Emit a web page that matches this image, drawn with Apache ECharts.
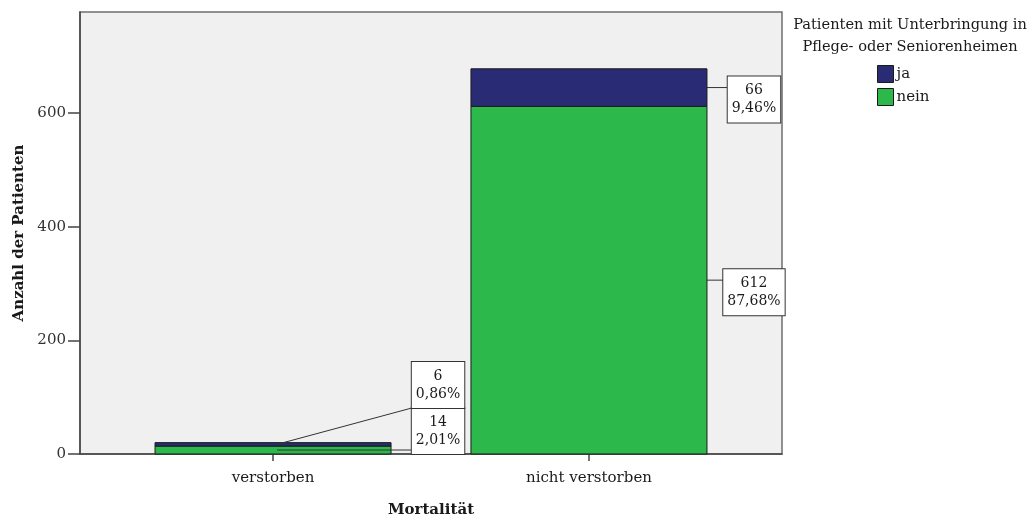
<!DOCTYPE html>
<html lang="de">
<head>
<meta charset="utf-8">
<title>Mortalität nach Unterbringung</title>
<script src="https://cdn.jsdelivr.net/npm/echarts@6/dist/echarts.min.js"></script>
<style>
  html, body { margin: 0; padding: 0; background: #ffffff; overflow: hidden; }
  #chart { width: 1031px; height: 518px; }
</style>
</head>
<body>
<div id="chart"></div>
<script>
// Categories on the x axis
const categories = ['verstorben', 'nicht verstorben'];
// Stacked groups, bottom to top
const groupNames = ['nein', 'ja'];
const neinValues = [14, 612];
const jaValues = [6, 66];
// Value axis ticks
const yTicks = [0, 200, 400, 600];

const FONT = '"DejaVu Serif", "Liberation Serif", serif';
const FS = 15;
const BOX_FS = 14;
const BAR_W = 236;
const colors = { nein: '#2db84b', ja: '#292c74' };

const groupValues = { nein: neinValues, ja: jaValues };
const total = neinValues.concat(jaValues).reduce((a, b) => a + b, 0);
const pctText = v => (v / total * 100).toFixed(2).replace('.', ',') + '%';

// One row per bar segment: category, lower and upper stack bound, count
const segRows = [];
categories.forEach((c, ci) => {
  let low = 0;
  groupNames.forEach(g => {
    const v = groupValues[g][ci];
    segRows.push({ group: g, cat: ci, low: low, high: low + v, value: v });
    low += v;
  });
});

const measureCtx = document.createElement('canvas').getContext('2d');
measureCtx.font = BOX_FS + 'px ' + FONT;
const textWidth = s => Math.max.apply(null, s.split('\n').map(l => measureCtx.measureText(l).width));

const BOX_PAD_X = 4, BOX_PAD_Y = 5, LINE_H = 18;
const BOX_H = 2 * LINE_H + 2 * BOX_PAD_Y;

// Stacked bar segment drawn as a rectangle between its lower and upper bound
function renderSegment(rows) {
  return function (params, api) {
    const r = rows[params.dataIndex];
    const p0 = api.coord([r.cat, r.low]);
    const p1 = api.coord([r.cat, r.high]);
    return {
      type: 'rect',
      shape: { x: p0[0] - BAR_W / 2, y: p1[1], width: BAR_W, height: p0[1] - p1[1] },
      style: { fill: api.visual('color'), stroke: '#1a1a1a', lineWidth: 1 }
    };
  };
}

// Value box beside the bar with a leader line to its segment
function renderLabel(params, api) {
  const item = segRows[params.dataIndex];
  const base = api.coord([item.cat, 0]);
  const barRight = base[0] + BAR_W / 2;
  const axisY = base[1];

  // boxes of one category sit beside the bar and are pushed upwards on overlap
  const layout = segRows.filter(r => r.cat === item.cat).map(r => {
    const top = api.coord([r.cat, r.high])[1];
    const bot = api.coord([r.cat, r.low])[1];
    const mid = (top + bot) / 2;
    return { r, top, bot, mid, cy: Math.min(mid + 12, axisY - BOX_H / 2) };
  });
  layout.sort((a, b) => b.cy - a.cy);
  for (let i = 1; i < layout.length; i++) {
    if (layout[i].cy > layout[i - 1].cy - BOX_H) layout[i].cy = layout[i - 1].cy - BOX_H;
  }
  const me = layout.find(l => l.r === item);

  const text = item.value + '\n' + pctText(item.value);
  const cx = barRight + 47;
  const boxLeft = cx - textWidth(text) / 2 - BOX_PAD_X;
  const clampY = y => Math.max(me.cy - BOX_H / 2, Math.min(me.cy + BOX_H / 2, y));

  const thin = (me.bot - me.top) < 20;
  const start = thin ? [base[0] + 4, me.mid] : [barRight, clampY(me.mid)];
  const end = [boxLeft, clampY(me.mid)];

  return {
    type: 'group',
    children: [
      {
        type: 'line',
        shape: { x1: start[0], y1: start[1], x2: end[0], y2: end[1] },
        style: { stroke: '#333', lineWidth: 1 }
      },
      {
        type: 'text',
        x: cx,
        y: me.cy,
        style: {
          text: text,
          align: 'center',
          verticalAlign: 'middle',
          font: BOX_FS + 'px ' + FONT,
          lineHeight: LINE_H,
          fill: '#1a1a1a',
          backgroundColor: '#ffffff',
          borderColor: '#333333',
          borderWidth: 1,
          padding: [BOX_PAD_Y, BOX_PAD_X]
        }
      }
    ]
  };
}

const segSeries = groupNames.map(g => {
  const rows = segRows.filter(r => r.group === g);
  return {
    name: g,
    type: 'custom',
    coordinateSystem: 'cartesian2d',
    itemStyle: { color: colors[g], borderColor: '#1a1a1a', borderWidth: 1 },
    data: rows.map(r => [r.cat, r.low, r.high]),
    encode: { x: 0, y: [1, 2] },
    renderItem: renderSegment(rows)
  };
});

const chart = echarts.init(document.getElementById('chart'), null, { renderer: 'canvas' });

chart.setOption({
  animation: false,
  backgroundColor: '#ffffff',
  title: {
    text: 'Patienten mit Unterbringung in\nPflege- oder Seniorenheimen',
    left: 905,
    top: 9,
    textAlign: 'center',
    textStyle: { fontFamily: FONT, fontSize: 14.6, fontWeight: 'normal', color: '#1a1a1a', lineHeight: 22 }
  },
  legend: {
    data: ['ja', 'nein'],
    orient: 'vertical',
    left: 877,
    top: 65,
    itemWidth: 16,
    itemHeight: 17,
    itemGap: 5,
    icon: 'rect',
    padding: 0,
    itemStyle: { borderColor: '#1a1a1a', borderWidth: 1 },
    textStyle: { fontFamily: FONT, fontSize: FS, color: '#1a1a1a', padding: [0, 0, 0, -2] }
  },
  grid: {
    left: 80,
    right: 249,
    top: 12,
    bottom: 64,
    outerBoundsMode: 'none',
    containLabel: false,
    show: true,
    backgroundColor: '#f0f0f0',
    borderColor: '#6e6e6e',
    borderWidth: 1.5
  },
  xAxis: {
    type: 'value',
    min: -0.611,
    max: 1.611,
    name: 'Mortalität',
    nameLocation: 'middle',
    nameGap: 49,
    nameTextStyle: { fontFamily: FONT, fontSize: FS, fontWeight: 'bold', color: '#1a1a1a' },
    splitLine: { show: false },
    axisLine: { show: true, onZero: false, lineStyle: { color: '#444', width: 1.5 } },
    axisTick: { show: true, length: 7, customValues: categories.map((c, i) => i), lineStyle: { color: '#444', width: 1.5 } },
    axisLabel: {
      customValues: categories.map((c, i) => i),
      formatter: v => categories[Math.round(v)] || '',
      margin: 17,
      fontFamily: FONT,
      fontSize: FS,
      color: '#1a1a1a'
    }
  },
  yAxis: {
    type: 'value',
    min: 0,
    max: 778,
    name: 'Anzahl der Patienten',
    nameLocation: 'middle',
    nameRotate: 90,
    nameGap: 52,
    nameTextStyle: { fontFamily: FONT, fontSize: FS, fontWeight: 'bold', color: '#1a1a1a' },
    splitLine: { show: false },
    axisLine: { show: true, onZero: false, lineStyle: { color: '#444', width: 1.5 } },
    axisTick: { show: true, length: 12, customValues: yTicks, lineStyle: { color: '#444', width: 1.5 } },
    axisLabel: {
      customValues: yTicks,
      margin: 14,
      fontFamily: FONT,
      fontSize: FS,
      color: '#333'
    }
  },
  series: segSeries.concat([
    {
      name: 'Beschriftung',
      type: 'custom',
      coordinateSystem: 'cartesian2d',
      silent: true,
      z: 5,
      data: segRows.map(r => [r.cat, r.high]),
      renderItem: renderLabel
    }
  ])
});
</script>
</body>
</html>
